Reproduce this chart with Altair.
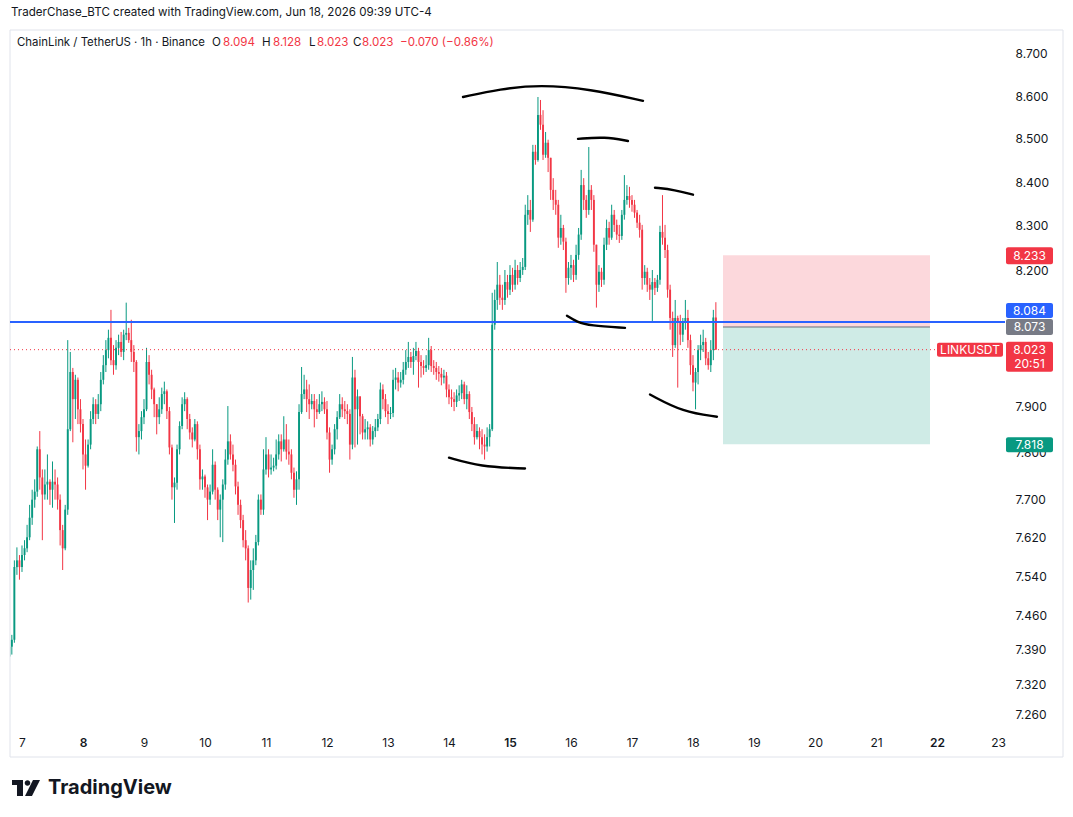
import altair as alt
import pandas as pd

UP = "#089981"
DOWN = "#f23645"
INK = "#131722"
FONT = "Inter"

# ---------------- data (LINK/USDT 1h) ----------------
first_open = 7.376
closes = [
    7.396, 7.41, 7.559, 7.573, 7.559, 7.584, 7.598, 7.621, 7.662, 7.7,
    7.717, 7.807, 7.747, 7.711, 7.732, 7.738, 7.721, 7.738, 7.732, 7.7,
    7.636, 7.598, 7.679, 7.85, 7.974, 7.915, 7.957, 7.893, 7.861, 7.796,
    7.772, 7.817, 7.872, 7.904, 7.883, 7.904, 7.957, 7.989, 8.022, 8.049,
    8.0, 7.989, 8.027, 8.04, 8.018, 8.056, 8.06, 8.044, 8.018, 7.996,
    7.833, 7.846, 7.876, 7.893, 7.996, 7.968, 7.936, 7.904, 7.876, 7.893,
    7.926, 7.932, 7.889, 7.811, 7.726, 7.736, 7.807, 7.857, 7.904, 7.915,
    7.872, 7.843, 7.828, 7.861, 7.807, 7.743, 7.749, 7.726, 7.7, 7.717,
    7.774, 7.721, 7.679, 7.7, 7.732, 7.785, 7.824, 7.796, 7.774, 7.728,
    7.689, 7.657, 7.615, 7.598, 7.516, 7.553, 7.573, 7.611, 7.7, 7.679,
    7.764, 7.796, 7.764, 7.768, 7.772, 7.796, 7.824, 7.807, 7.828, 7.802,
    7.796, 7.757, 7.721, 7.743, 7.887, 7.926, 7.936, 7.915, 7.904, 7.911,
    7.893, 7.887, 7.904, 7.909, 7.893, 7.843, 7.785, 7.807, 7.85, 7.876,
    7.904, 7.893, 7.889, 7.883, 7.817, 7.962, 7.893, 7.921, 7.878, 7.843,
    7.85, 7.854, 7.828, 7.846, 7.854, 7.872, 7.936, 7.915, 7.889, 7.883,
    7.885, 7.957, 7.962, 7.951, 7.957, 7.979, 7.996, 8.007, 7.996, 8.009,
    8.02, 7.996, 7.987, 7.983, 7.989, 8.022, 7.987, 7.983, 7.974, 7.97,
    7.962, 7.966, 7.936, 7.919, 7.915, 7.909, 7.923, 7.928, 7.947, 7.915,
    7.926, 7.887, 7.861, 7.833, 7.846, 7.833, 7.817, 7.813, 7.833, 7.85,
    8.078, 8.133, 8.167, 8.138, 8.133, 8.173, 8.156, 8.189, 8.167, 8.2,
    8.182, 8.2, 8.207, 8.325, 8.336, 8.314, 8.47, 8.451, 8.556, 8.533,
    8.463, 8.491, 8.456, 8.382, 8.359, 8.348, 8.273, 8.295, 8.264, 8.182,
    8.205, 8.211, 8.189, 8.234, 8.28, 8.393, 8.359, 8.336, 8.382, 8.359,
    8.257, 8.167, 8.196, 8.178, 8.257, 8.295, 8.273, 8.325, 8.302, 8.28,
    8.277, 8.325, 8.359, 8.368, 8.359, 8.348, 8.33, 8.307, 8.291, 8.182,
    8.196, 8.167, 8.156, 8.173, 8.16, 8.178, 8.286, 8.273, 8.245, 8.156,
    8.093, 8.033, 8.093, 8.084, 8.056, 8.082, 8.093, 8.044, 7.989, 7.951,
    7.974, 8.022, 8.033, 8.04, 8.004, 7.989, 8.022, 8.094, 8.023,
]
highs = [
    7.41, 7.42, 7.573, 7.6, 7.584, 7.604, 7.615, 7.647, 7.689, 7.721,
    7.743, 7.813, 7.846, 7.764, 7.764, 7.796, 7.743, 7.781, 7.764, 7.747,
    7.711, 7.647, 7.689, 8.044, 8.018, 7.983, 7.968, 7.962, 7.915, 7.872,
    7.828, 7.828, 7.889, 7.919, 7.915, 7.926, 7.974, 8.011, 8.044, 8.067,
    8.111, 8.033, 8.044, 8.056, 8.062, 8.067, 8.127, 8.071, 8.089, 8.033,
    8.0, 7.861, 7.889, 7.915, 8.027, 8.011, 7.979, 7.94, 7.904, 7.919,
    7.94, 7.953, 7.936, 7.898, 7.817, 7.747, 7.817, 7.867, 7.919, 7.93,
    7.919, 7.883, 7.854, 7.872, 7.867, 7.817, 7.764, 7.753, 7.732, 7.732,
    7.807, 7.781, 7.726, 7.711, 7.743, 7.807, 7.9, 7.839, 7.817, 7.785,
    7.738, 7.7, 7.668, 7.636, 7.604, 7.573, 7.598, 7.626, 7.711, 7.711,
    7.807, 7.833, 7.807, 7.796, 7.789, 7.828, 7.839, 7.839, 7.878, 7.861,
    7.828, 7.807, 7.768, 7.76, 7.904, 7.985, 7.968, 7.957, 7.947, 7.926,
    7.926, 7.915, 7.926, 7.932, 7.919, 7.911, 7.854, 7.817, 7.861, 7.889,
    7.926, 7.919, 7.911, 7.904, 7.893, 8.007, 7.979, 7.936, 7.915, 7.883,
    7.872, 7.867, 7.861, 7.857, 7.872, 7.883, 7.951, 7.947, 7.926, 7.904,
    7.898, 7.979, 7.983, 7.974, 7.974, 7.996, 8.022, 8.04, 8.018, 8.027,
    8.04, 8.027, 8.011, 8.0, 8.011, 8.049, 8.031, 8.0, 7.996, 7.987,
    7.983, 7.979, 7.974, 7.947, 7.936, 7.93, 7.936, 7.945, 7.957, 7.953,
    7.945, 7.932, 7.898, 7.876, 7.861, 7.854, 7.85, 7.839, 7.854, 7.861,
    8.149, 8.156, 8.218, 8.189, 8.167, 8.2, 8.189, 8.211, 8.205, 8.223,
    8.211, 8.218, 8.227, 8.348, 8.37, 8.359, 8.486, 8.486, 8.598, 8.591,
    8.567, 8.516, 8.498, 8.456, 8.409, 8.382, 8.359, 8.325, 8.302, 8.273,
    8.218, 8.234, 8.223, 8.257, 8.295, 8.428, 8.409, 8.37, 8.481, 8.393,
    8.37, 8.257, 8.211, 8.205, 8.273, 8.314, 8.309, 8.348, 8.336, 8.314,
    8.302, 8.336, 8.416, 8.393, 8.389, 8.37, 8.359, 8.336, 8.325, 8.302,
    8.211, 8.205, 8.182, 8.2, 8.182, 8.189, 8.3, 8.37, 8.302, 8.257,
    8.167, 8.107, 8.133, 8.098, 8.1, 8.093, 8.133, 8.111, 8.056, 8.011,
    7.983, 8.033, 8.056, 8.067, 8.049, 8.018, 8.044, 8.111, 8.128,
]
lows = [
    7.345, 7.38, 7.404, 7.543, 7.533, 7.549, 7.573, 7.59, 7.615, 7.647,
    7.683, 7.706, 7.721, 7.615, 7.7, 7.7, 7.689, 7.683, 7.7, 7.679,
    7.604, 7.553, 7.594, 7.668, 7.846, 7.822, 7.872, 7.861, 7.843, 7.764,
    7.721, 7.768, 7.807, 7.861, 7.861, 7.872, 7.889, 7.947, 7.974, 8.004,
    7.989, 7.968, 7.979, 8.011, 8.007, 8.0, 8.044, 8.038, 7.996, 7.974,
    7.802, 7.796, 7.828, 7.861, 7.889, 7.947, 7.915, 7.876, 7.839, 7.861,
    7.883, 7.904, 7.872, 7.796, 7.7, 7.651, 7.721, 7.796, 7.85, 7.889,
    7.85, 7.828, 7.811, 7.824, 7.785, 7.721, 7.721, 7.704, 7.657, 7.689,
    7.711, 7.7, 7.657, 7.621, 7.611, 7.721, 7.774, 7.785, 7.76, 7.711,
    7.668, 7.64, 7.6, 7.573, 7.486, 7.492, 7.512, 7.563, 7.604, 7.668,
    7.668, 7.753, 7.747, 7.753, 7.76, 7.764, 7.785, 7.781, 7.802, 7.785,
    7.774, 7.743, 7.704, 7.689, 7.721, 7.883, 7.915, 7.887, 7.872, 7.893,
    7.854, 7.872, 7.883, 7.889, 7.883, 7.828, 7.757, 7.774, 7.796, 7.828,
    7.872, 7.876, 7.872, 7.861, 7.785, 7.807, 7.811, 7.817, 7.839, 7.828,
    7.828, 7.828, 7.813, 7.817, 7.833, 7.846, 7.861, 7.893, 7.876, 7.861,
    7.872, 7.876, 7.936, 7.932, 7.94, 7.947, 7.968, 7.983, 7.983, 7.968,
    8.0, 7.94, 7.962, 7.968, 7.974, 7.979, 7.974, 7.968, 7.957, 7.953,
    7.945, 7.949, 7.919, 7.904, 7.898, 7.889, 7.898, 7.911, 7.915, 7.904,
    7.893, 7.872, 7.846, 7.817, 7.828, 7.807, 7.796, 7.785, 7.802, 7.813,
    7.846, 8.067, 8.111, 8.122, 8.111, 8.122, 8.138, 8.144, 8.151, 8.156,
    8.167, 8.173, 8.189, 8.2, 8.302, 8.286, 8.309, 8.44, 8.447, 8.521,
    8.451, 8.456, 8.423, 8.359, 8.336, 8.325, 8.25, 8.257, 8.245, 8.149,
    8.167, 8.178, 8.173, 8.178, 8.223, 8.268, 8.336, 8.318, 8.325, 8.336,
    8.241, 8.116, 8.151, 8.162, 8.167, 8.245, 8.257, 8.268, 8.286, 8.268,
    8.261, 8.268, 8.314, 8.348, 8.341, 8.332, 8.318, 8.295, 8.273, 8.156,
    8.167, 8.151, 8.133, 8.084, 8.144, 8.151, 8.167, 8.257, 8.227, 8.138,
    8.067, 8.007, 8.027, 7.94, 8.033, 8.04, 8.067, 8.027, 7.968, 7.932,
    7.893, 7.947, 8.0, 8.018, 7.989, 7.979, 7.974, 8.0, 8.023,
]

# last bar opens Jun 18 09:00 (day-of-month units, 1 bar = 1/24 day)
last_bar_day = 18.375

price_ticks = [7.26, 7.32, 7.39, 7.46, 7.54, 7.62, 7.70, 7.80, 7.90,
               8.20, 8.30, 8.40, 8.50, 8.60, 8.70]
day_ticks = list(range(7, 24))

# position tool (short): entry / stop / target and time span
entry_price = 8.073
stop_price = 8.233
target_price = 7.818
box_start_day = 18.492
box_end_day = 21.885

level_price = 8.084      # blue horizontal line
last_price = 8.023       # current price line

# hand-drawn arcs (day, price)
arc_ids = ["a"] * 5 + ["b"] * 3 + ["c"] * 3 + ["d"] * 4 + ["e"] * 3 + ["f"] * 3
arc_days = [14.23, 14.836, 15.492, 16.311, 17.18,
            16.115, 16.557, 16.934,
            17.377, 17.705, 18.0,
            15.934, 16.098, 16.311, 16.885,
            17.295, 17.836, 18.393,
            14.0, 14.508, 15.246]
arc_prices = [8.598, 8.617, 8.627, 8.617, 8.589,
              8.500, 8.505, 8.495,
              8.387, 8.382, 8.371,
              8.098, 8.084, 8.076, 8.071,
              7.925, 7.887, 7.877,
              7.789, 7.770, 7.766]

# ---------------- build tables ----------------
n = len(closes)
opens = [first_open] + closes[:-1]
days = [last_bar_day - (n - 1 - i) / 24 for i in range(n)]
candles = pd.DataFrame({
    "day": days, "open": opens, "close": closes, "high": highs, "low": lows,
    "dir": ["up" if c >= o else "down" for o, c in zip(opens, closes)],
})
arcs = pd.DataFrame({"arc": arc_ids, "day": arc_days, "price": arc_prices})

# ---------------- scales / axes ----------------
XSCALE = alt.Scale(domain=[6.8033, 23.1148], nice=False, zero=False, padding=0)
YSCALE = alt.Scale(type="log", domain=[7.2291, 8.7573], nice=False, zero=False, padding=0)
XAXIS = alt.Axis(values=day_ticks, format="d", title=None, grid=False, domain=False,
                 ticks=False, tickSize=0, labelPadding=7, labelFont=FONT, labelFontSize=12,
                 labelColor=INK, labelOverlap=False, labelFlush=False,
                 labelFontWeight={"condition": {"test": "datum.value == 8 || datum.value == 15 || datum.value == 22",
                                                "value": 600}, "value": 400})
YAXIS = alt.Axis(orient="right", values=price_ticks, format=".3f", title=None, grid=False,
                 domain=False, ticks=False, tickSize=0, labelPadding=10, labelFont=FONT,
                 labelFontSize=12, labelColor=INK, labelOverlap=False)


def X(field):
    return alt.X(f"{field}:Q", scale=XSCALE, axis=XAXIS)


def Y(field):
    return alt.Y(f"{field}:Q", scale=YSCALE, axis=YAXIS)


one = pd.DataFrame({"k": [0]})
color = alt.Color("dir:N", scale=alt.Scale(domain=["up", "down"], range=[UP, DOWN]), legend=None)

# ---------------- layers ----------------
frame = alt.Chart(one).mark_rect(fill="white", fillOpacity=0, stroke="#e0e3eb", strokeWidth=1).encode(
    x=alt.value(0), x2=alt.value(1053), y=alt.value(0), y2=alt.value(727))

pos_df = pd.DataFrame({"d0": [box_start_day], "d1": [box_end_day],
                       "entry": [entry_price], "stop": [stop_price], "target": [target_price]})
risk = alt.Chart(pos_df).mark_rect(color="#fcd8dc").encode(x=X("d0"), x2="d1:Q", y=Y("entry"), y2="stop:Q")
reward = alt.Chart(pos_df).mark_rect(color="#cfebe6").encode(x=X("d0"), x2="d1:Q", y=Y("target"), y2="entry:Q")
entry_line = alt.Chart(pos_df).mark_rule(color="#6a6d78", strokeWidth=1).encode(
    x=X("d0"), x2="d1:Q", y=Y("entry"))

wicks = alt.Chart(candles).mark_rule(strokeWidth=1, clip=True).encode(
    x=X("day"), y=Y("low"), y2="high:Q", color=color)
bodies = alt.Chart(candles).mark_bar(size=1.9, clip=True).encode(
    x=X("day"), y=Y("open"), y2="close:Q", color=color)

blue = alt.Chart(pd.DataFrame({"price": [level_price]})).mark_rule(color="#2962ff", strokeWidth=2).encode(
    x=alt.value(0), x2=alt.value(995), y=Y("price"))
dotted = alt.Chart(pd.DataFrame({"price": [last_price]})).mark_rule(
    color=DOWN, strokeWidth=1, strokeDash=[1, 3]).encode(x=alt.value(0), x2=alt.value(927), y=Y("price"))

arc_lines = alt.Chart(arcs).mark_line(color="black", strokeWidth=2.4, interpolate="basis",
                                      strokeCap="round", clip=True).encode(
    x=X("day"), y=Y("price"), detail="arc:N", order="day:Q")


def badge(price, fill, lines, top, bottom, x0=996, x1=1043):
    d = pd.DataFrame({"price": [price]})
    parts = [alt.Chart(d).mark_rect(color=fill, yOffset=top, y2Offset=bottom, cornerRadius=2).encode(
        x=alt.value(x0), x2=alt.value(x1), y=Y("price"), y2="price:Q")]
    for k, s in enumerate(lines):
        if len(lines) == 1:
            dy = (top + bottom) / 2
        else:
            dy = 14 * k
        parts.append(alt.Chart(d).mark_text(color="white", font=FONT, fontSize=12, align="center",
                                            baseline="middle", dy=dy).encode(
            x=alt.value((x0 + x1) / 2), y=Y("price"), text=alt.value(s)))
    return parts


badges = []
badges += badge(stop_price, DOWN, [f"{stop_price:.3f}"], -8, 9)
badges += badge(level_price, "#2962ff", [f"{level_price:.3f}"], -19, -4)
badges += badge(entry_price, "#787b86", [f"{entry_price:.3f}"], -8, 8)
badges += badge(last_price, DOWN, [f"{last_price:.3f}", "20:51"], -8, 22)
badges += badge(target_price, UP, [f"{target_price:.3f}"], -7, 8)
badges += badge(last_price, DOWN, ["LINKUSDT"], -7, 7, x0=927, x1=993)


def txt(s, x, y, color=INK, size=11.6, weight=400):
    return alt.Chart(one).mark_text(align="left", baseline="middle", font=FONT, fontSize=size,
                                    fontWeight=weight, color=color).encode(
        x=alt.value(x), y=alt.value(y), text=alt.value(s))


texts = [
    txt("TraderChase_BTC created with TradingView.com, Jun 18, 2026 09:39 UTC-4", 1, -17, size=11.6),
    txt("ChainLink / TetherUS · 1h · Binance", 7, 13, size=11.4),
    txt("O", 202, 13), txt("8.094", 213, 13, color=DOWN),
    txt("H", 252, 13), txt("8.128", 263, 13, color=DOWN),
    txt("L", 299, 13), txt("8.023", 307, 13, color=DOWN),
    txt("C", 343, 13), txt("8.023", 352, 13, color=DOWN),
    txt("\u22120.070 (\u22120.86%)", 390, 13, color=DOWN),
    txt("TradingView", 38, 758, size=20, weight=700),
]

logo_path = ("M-1,-0.533 H-0.267 V0.533 H-0.667 V-0.2 H-1 Z "
             "M-0.154,-0.333 A0.187,0.187 0 1,0 0.22,-0.333 A0.187,0.187 0 1,0 -0.154,-0.333 Z "
             "M-0.133,0.533 L0.333,0.533 L0.867,-0.533 L0.4,-0.533 Z")
logo = alt.Chart(one).mark_point(shape=logo_path, size=900, filled=True, color=INK, opacity=1,
                                 strokeWidth=0).encode(x=alt.value(17), y=alt.value(758))

chart = alt.layer(
    frame, risk, reward, entry_line, wicks, bodies, blue, dotted, arc_lines,
    *badges, *texts, logo
).properties(
    width=995, height=700,
    padding={"left": 10, "top": 30, "right": 68, "bottom": 87},
    autosize=alt.AutoSizeParams(type="none"),
).configure(background="white").configure_view(stroke=None)

chart.save("out.html", embed_options={"renderer": "svg", "actions": False})
